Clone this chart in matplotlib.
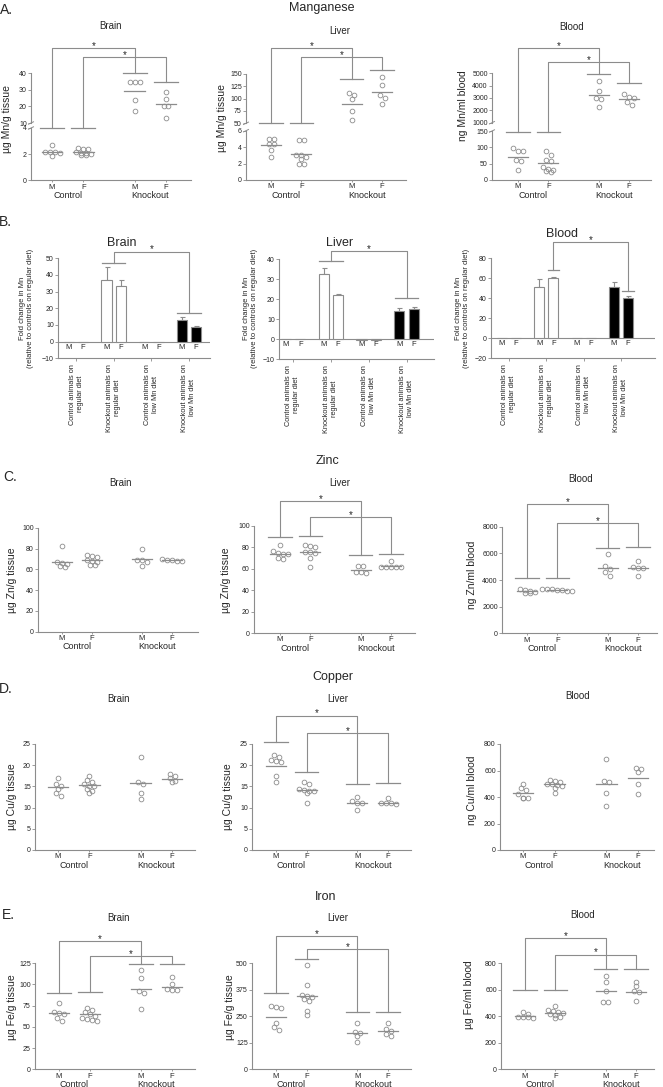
import matplotlib
matplotlib.use("Agg")
import matplotlib.pyplot as plt

plt.rcParams['font.family'] = ['Liberation Sans', 'DejaVu Sans']

W, H = 663, 1087
GRAY = '#8c8c8c'
TXT = '#262626'

sexes = ['M', 'F', 'M', 'F']
pos = [1, 2, 3.65, 4.65]
genotypes = ['Control', 'Knockout']

# ---------------- A. Manganese ----------------
mn_brain = [[2.7, 2.2, 2.2, 2.2, 2.1, 1.85],
            [2.5, 2.4, 2.4, 2.2, 2.1, 2.1, 2.0, 1.9, 1.9],
            [35, 35, 35, 24, 17],
            [28.5, 24.5, 20, 20, 13]]
mn_brain_mean = [2.15, 2.15, 29.3, 21.3]
mn_liver = [[5.0, 5.0, 4.4, 4.4, 3.6, 2.8],
            [4.9, 4.9, 3.1, 3.0, 2.8, 2.5, 2.0, 2.0],
            [112, 107, 99, 75, 57],
            [143, 127, 108, 102, 90]]
mn_liver_mean = [4.2, 3.15, 90, 114]
mn_blood = [[98, 88, 90, 62, 58, 32],
            [88, 78, 62, 58, 40, 35, 30, 25, 28],
            [4400, 3600, 3000, 2900, 2300],
            [3300, 3100, 3000, 2700, 2400]]
mn_blood_mean = [71, 52, 3250, 2900]

# ---------------- B. Fold change in Mn ----------------
diet_groups = ['Control animals on\nregular diet', 'Knockout animals on\nregular diet',
               'Control animals on\nlow Mn diet', 'Knockout animals on\nlow Mn diet']
bar_fill = ['white', 'white', 'white', 'black']
fold_brain = [0, 0, 37, 33.5, 0, 0, 13, 8.5]
fold_brain_err = [0, 0, 8, 3.5, 0, 0, 2, 1]
fold_liver = [0, 0, 32.5, 22, -0.3, -0.5, 14, 15]
fold_liver_err = [0, 0, 3, 0.6, 0, 0, 1.8, 1.2]
fold_blood = [0, 0, 51, 60, 0.5, 0.3, 51, 40]
fold_blood_err = [0, 0, 8, 1, 0, 0, 5.5, 2]

# ---------------- C. Zinc ----------------
zn_brain = [[83, 67, 66, 65, 63, 62],
            [74, 73, 72, 69, 68, 67, 64, 64],
            [80, 69, 69, 67, 63],
            [70, 69, 68, 68, 69]]
zn_brain_mean = [67.5, 69.5, 70, 69]
zn_liver = [[82, 77, 75, 74, 74, 70, 69],
            [82, 81, 80, 76, 76, 75, 70, 62],
            [63, 63, 57, 57, 56],
            [67, 62, 62, 62, 62, 62]]
zn_liver_mean = [74, 76, 58.5, 62.5]
zn_blood = [[3350, 3250, 3200, 3100, 3050, 3000],
            [3350, 3300, 3300, 3250, 3250, 3200, 3200],
            [5930, 5050, 4800, 4600, 4320],
            [5450, 5000, 4920, 4900, 4320]]
zn_blood_mean = [3150, 3250, 4920, 4930]

# ---------------- D. Copper ----------------
cu_brain = [[17, 15.5, 15.2, 14.5, 13.5, 12.7],
            [17.5, 16.5, 16, 15.5, 15.2, 15, 14.5, 14, 13.5],
            [22, 16, 15.5, 13.5, 12],
            [18, 17.5, 17, 16.2, 16.0]]
cu_brain_mean = [14.8, 15.3, 15.8, 16.7]
cu_liver = [[22.5, 22, 21, 20.8, 21.2, 17.5, 16],
            [16, 15.5, 14.5, 14.2, 14, 13.8, 13.5, 11.2],
            [12.5, 11.5, 11, 11, 9.5],
            [12.3, 11, 11, 11, 10.8]]
cu_liver_mean = [19.8, 14.2, 11.1, 11.1]
cu_blood = [[500, 465, 455, 420, 395, 390, 395],
            [530, 520, 510, 500, 495, 490, 480, 470, 430],
            [690, 520, 510, 430, 330],
            [620, 610, 590, 500, 420]]
cu_blood_mean = [430, 495, 497, 540]

# ---------------- E. Iron ----------------
fe_brain = [[78, 67, 66, 65, 60, 57],
            [72, 70, 67, 65, 63, 60, 58, 57, 59],
            [117, 107, 92, 90, 71],
            [108, 100, 95, 93, 93]]
fe_brain_mean = [66, 65, 95, 97]
fe_liver = [[300, 290, 295, 220, 200, 185],
            [490, 395, 350, 345, 340, 330, 320, 275, 255],
            [220, 175, 170, 155, 130],
            [218, 190, 178, 165, 155]]
fe_liver_mean = [248, 345, 170, 181]
fe_blood = [[430, 415, 395, 385, 390, 395],
            [475, 445, 440, 430, 420, 415, 405, 395, 385],
            [700, 660, 590, 510, 505],
            [655, 625, 590, 585, 515]]
fe_blood_mean = [400, 420, 590, 585]

fig = plt.figure(figsize=(W / 100, H / 100), dpi=100)


def px_axes(x0, x1, ytop, ybot):
    return fig.add_axes([x0 / W, 1 - ybot / H, (x1 - x0) / W, (ybot - ytop) / H])


def ftext(x, y, s, **kw):
    kw.setdefault('ha', 'center')
    kw.setdefault('va', 'center')
    kw.setdefault('color', TXT)
    fig.text(x / W, 1 - y / H, s, **kw)


def style(ax, xaxis=True):
    ax.patch.set_visible(False)
    for s in ['top', 'right']:
        ax.spines[s].set_visible(False)
    for s in ['left', 'bottom']:
        ax.spines[s].set_color(GRAY)
        ax.spines[s].set_linewidth(0.8)
    ax.tick_params(colors=GRAY, labelcolor=TXT, labelsize=5, length=2, width=0.6, pad=1)
    if not xaxis:
        ax.spines['bottom'].set_visible(False)
        ax.tick_params(axis='x', bottom=False, labelbottom=False)


def star(ax, x, y):
    ax.annotate('*', (x, y), xytext=(0, 1.5), textcoords='offset points', ha='center',
                va='center', fontsize=7, color=TXT, annotation_clip=False)


def swarm(ax, x, ys, d=5.0):
    # spread points that sit at about the same height side by side (pixel space)
    t = ax.transData
    cx = t.transform((x, 0))[0]
    unit = t.transform((x + 1, 0))[0] - cx
    py = [t.transform((x, y))[1] for y in ys]
    order = sorted(range(len(ys)), key=lambda k: -py[k])
    xs = [x] * len(ys)

    def flush(row):
        n = len(row)
        for i, k in enumerate(row):
            xs[k] = x + (i - (n - 1) / 2) * d / unit

    row = []
    for k in order:
        if row and abs(py[row[0]] - py[k]) > d * 0.75:
            flush(row)
            row = []
        row.append(k)
    flush(row)
    return xs


def scatter_panel(box, lims, ticks, data, means, caps=None, tops=None):
    x0, x1, m1, f2, rows = box
    scale = (f2 - m1) / (pos[3] - pos[0])
    off = m1 - scale * pos[0]
    axes = []
    for i, ((yt, yb), lim, tk) in enumerate(zip(rows, lims, ticks)):
        ax = px_axes(x0, x1, yt, yb)
        last = i == len(rows) - 1
        style(ax, last)
        ax.set_xlim((x0 - off) / scale, (x1 - off) / scale)
        ax.set_ylim(lim)
        ax.set_yticks(tk)
        if last:
            ax.set_xticks(pos)
            ax.set_xticklabels(sexes, fontsize=5.5)
            ax.tick_params(axis='x', length=1.5)
        axes.append(ax)
    # break marks on the y axis
    if len(axes) > 1:
        for ax, yy, (yt, yb) in [(axes[0], 0, rows[0]), (axes[1], 1, rows[1])]:
            dx = 2.5 / (x1 - x0)
            dy = 1.2 / (yb - yt)
            ax.plot([-dx, dx], [yy - dy, yy + dy], transform=ax.transAxes,
                    color=GRAY, lw=0.7, clip_on=False)
    home = []
    for g in range(4):
        ax = next((a_ for a_, lim in zip(axes, lims) if means[g] >= lim[0]), axes[-1])
        home.append(ax)
        xs = swarm(ax, pos[g], data[g])
        ax.plot(xs, data[g], ls='none', marker='o', ms=3.4, mfc='none', mec=GRAY,
                mew=0.6, clip_on=False, zorder=3)
        ax.plot([pos[g] - 0.33, pos[g] + 0.33], [means[g]] * 2, color=GRAY, lw=0.9,
                clip_on=False)
    bottom = axes[-1]
    for k, name in enumerate(genotypes):
        bottom.annotate(name, ((pos[2 * k] + pos[2 * k + 1]) / 2, lims[-1][0]),
                        xytext=(0, -11), textcoords='offset points', ha='center',
                        va='center', fontsize=6.5, color=TXT, annotation_clip=False)
    if caps:
        top = axes[0]
        inv = top.transData.inverted()
        cap_top = []
        for g in range(4):
            home[g].plot([pos[g] - 0.38, pos[g] + 0.38], [caps[g]] * 2, color=GRAY,
                         lw=0.9, clip_on=False)
            cap_top.append(inv.transform(home[g].transData.transform((pos[g], caps[g])))[1])
        for i, j, h in tops:
            top.plot([pos[i], pos[i], pos[j], pos[j]], [cap_top[i], h, h, cap_top[j]],
                     color=GRAY, lw=0.8, clip_on=False)
            star(top, (pos[i] + pos[j]) / 2, h)
    return axes


def bar_panel(box, lim, ticks, vals, errs, brackets):
    x0, x1, c0, c3, yt, yb = box
    scale = (c3 - c0) / 3
    ax = px_axes(x0, x1, yt, yb)
    style(ax)
    ax.set_xlim((x0 - c0) / scale, (x1 - c0) / scale)
    ax.set_ylim(lim)
    ax.set_yticks(ticks)
    ax.axhline(0, color=GRAY, lw=0.8, zorder=1)
    xs = [g + s for g in range(4) for s in (-0.19, 0.19)]
    fills = [bar_fill[g] for g in range(4) for _ in range(2)]
    ax.bar(xs, vals, width=0.27, color=fills, edgecolor=GRAY, linewidth=0.8, zorder=2)
    for x, v, e in zip(xs, vals, errs):
        if e > 0:
            ax.errorbar([x], [v], yerr=[[0], [e]], fmt='none', ecolor=GRAY, elinewidth=0.8,
                        capsize=1.8, capthick=0.8, zorder=1.5)
    for x, s in zip(xs, sexes * 2):
        ax.annotate(s, (x, 0), xytext=(0, -4), textcoords='offset points', ha='center',
                    va='center', fontsize=5.5, color=TXT)
    ax.set_xticks(range(4))
    ax.set_xticklabels(diet_groups, rotation=90, fontsize=5.3, va='top', ha='center')
    for t in ax.get_xticklabels():
        t.set_multialignment('center')
    ax.tick_params(axis='x', length=2.5, pad=1.5)
    for xa, ya, xb, yb_, h, hw in brackets:
        ax.plot([xa - hw, xa + hw], [ya, ya], color=GRAY, lw=0.9, clip_on=False)
        ax.plot([xb - hw, xb + hw], [yb_, yb_], color=GRAY, lw=0.9, clip_on=False)
        ax.plot([xa, xa, xb, xb], [ya, h, h, yb_], color=GRAY, lw=0.8, clip_on=False)
        star(ax, (xa + xb) / 2, h)
    return ax


# ---------------- A ----------------
ftext(6, 10, 'A.', fontsize=10)
ftext(322, 8, 'Manganese', fontsize=9)
ftext(111, 26, 'Brain', fontsize=7)
ftext(340, 31, 'Liver', fontsize=7)
ftext(572, 27, 'Blood', fontsize=7)
scatter_panel((31, 191, 52, 166, [(73.3, 123), (128, 180.3)]),
              [(10, 40), (0, 4)], [[10, 20, 30, 40], [0, 2, 4]],
              mn_brain, mn_brain_mean, [4.0, 4.0, 40, 34.6], [(0, 2, 55), (1, 3, 49.7)])
scatter_panel((246, 406, 271, 382, [(74, 123.3), (130.7, 180)]),
              [(50, 150), (0, 6)], [[50, 75, 100, 125, 150], [0, 2, 4, 6]],
              mn_liver, mn_liver_mean, [6.9, 6.9, 140, 159], [(0, 2, 202), (1, 3, 184)])
scatter_panel((492, 651, 518, 629, [(73.3, 122.7), (131, 180)]),
              [(1000, 5000), (0, 150)], [[1000, 2000, 3000, 4000, 5000], [0, 50, 100, 150]],
              mn_blood, mn_blood_mean, [147, 147, 4950, 4200], [(0, 2, 7070), (1, 3, 5940)])
ftext(7, 119, 'µg Mn/g tissue', fontsize=7.5, rotation=90)
ftext(222, 118, 'µg Mn/g tissue', fontsize=7.5, rotation=90)
ftext(463, 106, 'ng Mn/ml blood', fontsize=7.5, rotation=90)

# ---------------- B ----------------
ftext(5, 222, 'B.', fontsize=10)
ftext(122, 243, 'Brain', fontsize=9)
ftext(340, 243, 'Liver', fontsize=9)
ftext(562, 234, 'Blood', fontsize=9)
bar_panel((58, 210, 76, 189, 258.3, 358.3), (-10, 50), [-10, 0, 10, 20, 30, 40, 50],
          fold_brain, fold_brain_err, [(1, 47.4, 3, 17.4, 54, 0.31)])
bar_panel((279, 434, 293, 406.5, 259.3, 359.3), (-10, 40), [-10, 0, 10, 20, 30, 40],
          fold_liver, fold_liver_err, [(1, 39.2, 3, 20.8, 44, 0.31)])
bar_panel((491, 655, 509, 621, 258.3, 358.3), (-20, 80), [-20, 0, 20, 40, 60, 80],
          fold_blood, fold_blood_err, [(1.19, 68, 3.19, 47, 96.6, 0.15)])
blab = 'Fold change in Mn\n(relative to controls on regular diet)'
for x in (27, 250, 463):
    ftext(x, 308, blab, fontsize=5.5, rotation=90, multialignment='center')

# ---------------- C ----------------
ftext(10, 477, 'C.', fontsize=10)
ftext(328, 461, 'Zinc', fontsize=9)
ftext(121, 483, 'Brain', fontsize=7)
ftext(340, 483, 'Liver', fontsize=7)
ftext(581, 479, 'Blood', fontsize=7)
scatter_panel((38, 198, 62, 172, [(528, 631.5)]), [(0, 100)], [[0, 20, 40, 60, 80, 100]],
              zn_brain, zn_brain_mean)
scatter_panel((254, 415, 280, 391, [(526, 633)]), [(0, 100)], [[0, 20, 40, 60, 80, 100]],
              zn_liver, zn_liver_mean, [90, 91, 73, 73.5], [(0, 2, 123.6), (1, 3, 108)])
scatter_panel((502, 657, 527, 638, [(526.7, 633.3)]), [(0, 8000)],
              [[0, 2000, 4000, 6000, 8000]],
              zn_blood, zn_blood_mean, [4150, 4150, 6400, 6450], [(0, 2, 9680), (1, 3, 8300)])
ftext(12, 580, 'µg Zn/g tissue', fontsize=7.5, rotation=90)
ftext(226, 580, 'µg Zn/g tissue', fontsize=7.5, rotation=90)
ftext(472, 575, 'ng Zn/ml blood', fontsize=7.5, rotation=90)

# ---------------- D ----------------
ftext(6, 689, 'D.', fontsize=10)
ftext(333, 677, 'Copper', fontsize=9)
ftext(118, 699, 'Brain', fontsize=7)
ftext(338, 699, 'Liver', fontsize=7)
ftext(578, 696, 'Blood', fontsize=7)
scatter_panel((35, 195, 58, 172, [(744, 850)]), [(0, 25)], [[0, 5, 10, 15, 20, 25]],
              cu_brain, cu_brain_mean)
scatter_panel((252, 411, 276, 388, [(744, 850)]), [(0, 25)], [[0, 5, 10, 15, 20, 25]],
              cu_liver, cu_liver_mean, [25.5, 18.3, 15.6, 15.7], [(0, 2, 31.7), (1, 3, 27.6)])
scatter_panel((500, 654, 523, 638, [(744, 850)]), [(0, 800)], [[0, 200, 400, 600, 800]],
              cu_blood, cu_blood_mean)
ftext(12, 797, 'µg Cu/g tissue', fontsize=7.5, rotation=90)
ftext(228, 797, 'µg Cu/g tissue', fontsize=7.5, rotation=90)
ftext(472, 790, 'ng Cu/ml blood', fontsize=7.5, rotation=90)

# ---------------- E ----------------
ftext(8, 915, 'E.', fontsize=10)
ftext(326, 897, 'Iron', fontsize=9)
ftext(118, 918, 'Brain', fontsize=7)
ftext(338, 918, 'Liver', fontsize=7)
ftext(583, 915, 'Blood', fontsize=7)
scatter_panel((35, 195, 59, 172, [(963, 1069.3)]), [(0, 125)], [[0, 25, 50, 75, 100, 125]],
              fe_brain, fe_brain_mean, [90, 91, 124, 124], [(0, 2, 150.5), (1, 3, 133.6)])
scatter_panel((252, 411, 276, 388, [(963, 1069.3)]), [(0, 500)], [[0, 125, 250, 375, 500]],
              fe_liver, fe_liver_mean, [360, 520, 270, 268], [(0, 2, 625), (1, 3, 567)])
scatter_panel((501, 654, 525, 636, [(963, 1069.3)]), [(0, 800)], [[0, 200, 400, 600, 800]],
              fe_blood, fe_blood_mean, [600, 600, 758, 758], [(0, 2, 988), (1, 3, 863)])
ftext(12, 1007, 'µg Fe/g tissue', fontsize=7.5, rotation=90)
ftext(230, 1007, 'µg Fe/g tissue', fontsize=7.5, rotation=90)
ftext(469, 995, 'µg Fe/ml blood', fontsize=7.5, rotation=90)

fig.savefig('out.png', dpi=100)
